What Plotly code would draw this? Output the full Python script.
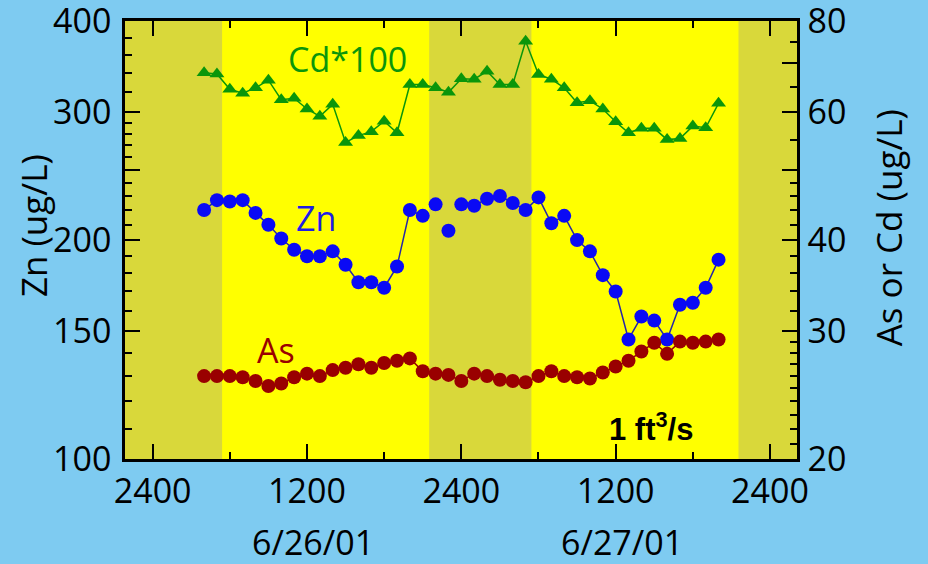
import plotly.graph_objects as go

# Hourly samples, hours after midnight starting 6/26/01
hours = list(range(4, 45))

# Zn (ug/L), left axis
zn = [220, 227, 226, 227, 218, 210, 201, 194, 190, 190, 193, 185, 175, 175,
      172, 184, 220, 216, 224, 206, 224, 223, 228, 230, 225, 220, 229, 211,
      216, 200, 193, 179, 170, 146, 157, 155, 146, 163, 164, 172, 188]

# Cd*100 (ug/L), right axis
cd100 = [68.0, 67.7, 64.5, 63.7, 64.8, 66.4, 62.4, 62.7, 60.6, 59.2, 61.5,
         54.5, 55.7, 56.4, 58.3, 56.2, 65.5, 65.5, 64.8, 63.9, 66.7, 66.6,
         68.3, 65.5, 65.5, 75.1, 67.6, 66.6, 64.8, 61.8, 62.2, 60.6, 58.2,
         56.2, 57.0, 57.0, 55.0, 55.2, 57.4, 57.1, 61.7]

# As (ug/L), right axis
arsenic = [26.0, 26.0, 26.0, 25.9, 25.6, 25.2, 25.4, 25.9, 26.2, 26.0, 26.5,
           26.7, 27.0, 26.7, 27.1, 27.3, 27.5, 26.4, 26.2, 26.1, 25.6, 26.2,
           26.0, 25.7, 25.6, 25.5, 26.0, 26.4, 26.0, 25.9, 25.8, 26.3, 26.8,
           27.3, 28.1, 28.9, 27.9, 29.0, 28.9, 29.0, 29.2]

# Zn hours left unconnected by the line
zn_line_breaks = [22, 23]

# Daylight periods (hours)
sunrise = [5.4, 29.45]
sunset = [21.5, 45.55]

x_ticks = [0, 12, 24, 36, 48]
x_tick_text = ["2400", "1200", "2400", "1200", "2400"]
x_minor = [6, 18, 30, 42]
date_labels = ["6/26/01", "6/27/01"]
date_pos = [12.5, 36.5]

left_major = [100, 150, 200, 250, 300, 400]
left_text = ["100", "150", "200", "", "300", "400"]
left_minor = [110, 120, 130, 140, 160, 170, 180, 190, 210, 220, 230, 240,
              260, 270, 280, 290, 320, 340, 360, 380]

right_major = [20, 30, 40, 50, 60, 70, 80]
right_text = ["20", "30", "40", "", "60", "", "80"]
right_minor = [21, 22, 23, 24, 25, 26, 27, 28, 29, 32, 34, 36, 38,
               42, 44, 46, 48, 55, 65, 75]

BG = "#7ECBF1"
NIGHT = "#D9D83A"
DAY = "#FFFF00"
GREEN = "#0A960A"
BLUE = "#0A0AF5"
DARKRED = "#990000"
FONT = "Open Sans"

fig = go.Figure()

fig.add_trace(go.Scatter(
    x=hours, y=arsenic, yaxis="y2", mode="lines+markers",
    line=dict(color=DARKRED, width=1.5),
    marker=dict(symbol="circle", size=14, color=DARKRED),
    showlegend=False, hoverinfo="skip"))

zn_line = [None if h in zn_line_breaks else v for h, v in zip(hours, zn)]
fig.add_trace(go.Scatter(
    x=hours, y=zn_line, mode="lines", connectgaps=False,
    line=dict(color="#2626A6", width=1.5),
    showlegend=False, hoverinfo="skip"))
fig.add_trace(go.Scatter(
    x=hours, y=zn, mode="markers",
    marker=dict(symbol="circle", size=14, color=BLUE),
    showlegend=False, hoverinfo="skip"))

fig.add_trace(go.Scatter(
    x=hours, y=cd100, yaxis="y2", mode="lines+markers",
    line=dict(color=GREEN, width=1.5),
    marker=dict(symbol="triangle-up", size=13, color=GREEN),
    showlegend=False, hoverinfo="skip"))

shapes = [dict(type="rect", xref="x", yref="paper", x0=a, x1=b, y0=0, y1=1,
               fillcolor=DAY, line=dict(width=0), layer="below")
          for a, b in zip(sunrise, sunset)]

tickfont = dict(family=FONT, size=34, color="black")
axis_common = dict(showline=True, linecolor="black", linewidth=2.5,
                   ticks="inside", tickcolor="black", tickwidth=2,
                   showgrid=False, zeroline=False, tickfont=tickfont,
                   ticklabeloverflow="allow", automargin=False)


def label(text, x, y, color, size=34, family=FONT, xref="x", angle=0):
    return dict(text=text, x=x, y=y, xref=xref, yref="paper",
                xanchor="center", yanchor="middle", textangle=angle,
                showarrow=False,
                font=dict(family=family, size=size, color=color))


annotations = [
    label("Cd*100", 15.15, 0.913, GREEN),
    label("Zn", 12.7, 0.55, "#1E1EE6"),
    label("As", 9.59, 0.25, DARKRED),
    label("<b>1 ft<sup>3</sup>/s</b>", 38.72, 0.072, "black", size=31,
          family="Liberation Sans"),
    label("Zn (ug/L)", -0.137, 0.534, "black", size=35, xref="paper",
          angle=-90),
    label("As or Cd (ug/L)", 1.1354, 0.529, "black", size=35, xref="paper",
          angle=-90),
]
for lbl, pos in zip(date_labels, date_pos):
    annotations.append(label(lbl, pos, -0.19, "black"))

fig.update_layout(
    width=928, height=564,
    margin=dict(l=125, r=131, t=21, b=105, autoexpand=False),
    paper_bgcolor=BG, plot_bgcolor=NIGHT,
    shapes=shapes, annotations=annotations,
    xaxis=dict(range=[-2.15, 50.1], tickmode="array", tickvals=x_ticks,
               ticktext=x_tick_text, ticklen=15, mirror="ticks",
               ticklabelstandoff=0,
               minor=dict(tickvals=x_minor, ticks="inside", ticklen=7,
                          tickwidth=2, tickcolor="black", showgrid=False),
               **axis_common),
    yaxis=dict(type="log", range=[1.9999, 2.6025], tickmode="array",
               tickvals=left_major, ticktext=left_text, ticklen=15,
               ticklabelstandoff=4,
               minor=dict(tickvals=left_minor, ticks="inside", ticklen=7,
                          tickwidth=2, tickcolor="black", showgrid=False),
               **axis_common),
    yaxis2=dict(type="log", range=[1.3009, 1.90354], overlaying="y",
                side="right", tickmode="array", tickvals=right_major,
                ticktext=right_text, ticklen=15, ticklabelstandoff=1,
                minor=dict(tickvals=right_minor, ticks="inside", ticklen=7,
                           tickwidth=2, tickcolor="black", showgrid=False),
                **axis_common),
)

fig.write_html("out.html")
